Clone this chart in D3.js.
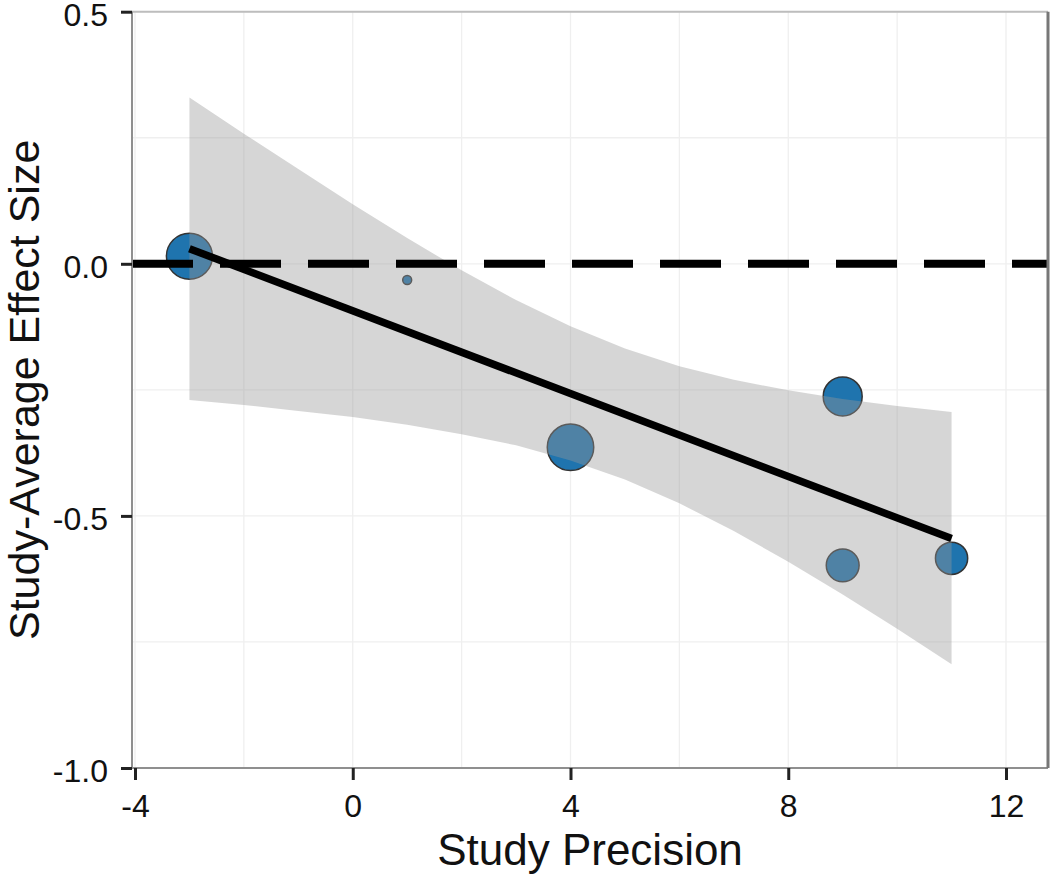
<!DOCTYPE html>
<html>
<head>
<meta charset="utf-8">
<script src="https://cdn.jsdelivr.net/npm/d3@7/dist/d3.min.js"></script>
<style>
  html, body { margin: 0; padding: 0; background: #fff; }
  svg { display: block; }
  text { font-family: "Liberation Sans", Arial, sans-serif; fill: #111; }
</style>
</head>
<body>
<svg id="chart" width="1050" height="877"></svg>
<script>
// ---- data ----
const precision = [-3, 1, 4, 9, 9, 11];
const effect    = [0.015, -0.032, -0.364, -0.263, -0.598, -0.584];
const weight    = [5.3, 0.2, 5.4, 3.8, 2.7, 2.6];

const fitX = [-3, 11];
const fitY = [0.03, -0.545];

const bandX     = [-3, -2, -1, 0, 1, 2, 3, 4, 5, 6, 7, 8, 9, 10, 11];
const bandUpper = [0.33, 0.258, 0.188, 0.118, 0.051, -0.013, -0.072, -0.124, -0.168, -0.203, -0.230, -0.251, -0.268, -0.282, -0.294];
const bandLower = [-0.27, -0.280, -0.292, -0.304, -0.319, -0.338, -0.360, -0.390, -0.428, -0.475, -0.530, -0.591, -0.656, -0.724, -0.794];

const refLine = 0;

const xTicks = [-4, 0, 4, 8, 12];
const xMinor = [-2, 2, 6, 10];
const yTicks = [0.5, 0.0, -0.5, -1.0];
const yMinor = [0.25, -0.25, -0.75];
const yTickLabels = ["0.5", "0.0", "-0.5", "-1.0"];

const xTitle = "Study Precision";
const yTitle = "Study-Average Effect Size";

// ---- layout ----
const svg = d3.select("#chart");
const L = 132, R = 1048, T = 11.7, B = 768;

const x = d3.scaleLinear().domain([-4, 12]).range([135, 1006]);
const y = d3.scaleLinear().domain([-1, 0.5]).range([B, T]);
const r = d3.scaleSqrt().domain([0, 1]).range([0, 10]);

svg.append("defs").append("clipPath").attr("id", "clip")
  .append("rect").attr("x", L).attr("y", T).attr("width", R - L).attr("height", B - T);

const plot = svg.append("g").attr("clip-path", "url(#clip)");

// grid
const grid = plot.append("g").attr("stroke", "#efefef").attr("stroke-width", 1.3);
xTicks.concat(xMinor).forEach(v => {
  grid.append("line").attr("x1", x(v)).attr("x2", x(v)).attr("y1", T).attr("y2", B);
});
yTicks.concat(yMinor).forEach(v => {
  grid.append("line").attr("x1", L).attr("x2", R).attr("y1", y(v)).attr("y2", y(v));
});

// points (drawn below the band, as in the reference)
const pts = precision.map((p, i) => ({ p, e: effect[i], w: weight[i] }));
plot.append("g").selectAll("circle").data(pts).enter().append("circle")
  .attr("cx", d => x(d.p))
  .attr("cy", d => y(d.e))
  .attr("r", d => r(d.w))
  .attr("fill", "#1f74ae")
  .attr("stroke", "#333")
  .attr("stroke-width", 1.5);

// confidence band
const band = bandX.map((v, i) => ({ x: v, u: bandUpper[i], l: bandLower[i] }));
plot.append("path").datum(band)
  .attr("d", d3.area().x(d => x(d.x)).y0(d => y(d.l)).y1(d => y(d.u)))
  .attr("fill", "#999999").attr("fill-opacity", 0.4);

// regression line
plot.append("path").datum(fitX.map((v, i) => [v, fitY[i]]))
  .attr("d", d3.line().x(d => x(d[0])).y(d => y(d[1])))
  .attr("fill", "none").attr("stroke", "#000").attr("stroke-width", 7.5);

// dashed reference line
plot.append("line")
  .attr("x1", L).attr("x2", R).attr("y1", y(refLine)).attr("y2", y(refLine))
  .attr("stroke", "#000").attr("stroke-width", 8)
  .attr("stroke-dasharray", "61,27");

// panel border
svg.append("line").attr("x1", L).attr("x2", R).attr("y1", T).attr("y2", T)
  .attr("stroke", "#bdbdbd").attr("stroke-width", 2);
svg.append("line").attr("x1", L).attr("x2", L).attr("y1", T).attr("y2", B)
  .attr("stroke", "#8f8f8f").attr("stroke-width", 2);
svg.append("line").attr("x1", L).attr("x2", R).attr("y1", B).attr("y2", B)
  .attr("stroke", "#8f8f8f").attr("stroke-width", 2);
svg.append("line").attr("x1", R).attr("x2", R).attr("y1", T).attr("y2", B)
  .attr("stroke", "#777").attr("stroke-width", 3);

// axes
const xAxis = svg.append("g").attr("transform", `translate(0,${B})`)
  .call(d3.axisBottom(x).tickValues(xTicks).tickSize(12).tickPadding(14)
    .tickFormat(d => d3.format("d")(d).replace("−", "-")));
const yAxis = svg.append("g").attr("transform", `translate(${L},0)`)
  .call(d3.axisLeft(y).tickValues(yTicks).tickSize(11).tickPadding(13)
    .tickFormat((d, i) => yTickLabels[i]));

[xAxis, yAxis].forEach(g => {
  g.select(".domain").remove();
  g.selectAll(".tick line").attr("stroke", "#222").attr("stroke-width", 3);
  g.selectAll(".tick text").style("font-family", "'Liberation Sans', Arial, sans-serif")
    .style("font-size", "32px").attr("fill", "#111");
});
yAxis.selectAll(".tick text").attr("dy", "0.42em");

// titles
svg.append("text").attr("x", (L + R) / 2).attr("y", 865)
  .attr("text-anchor", "middle").style("font-size", "44px").text(xTitle);
svg.append("text")
  .attr("transform", `translate(39,${(T + B) / 2}) rotate(-90)`)
  .attr("text-anchor", "middle").style("font-size", "43px").text(yTitle);
</script>
</body>
</html>
